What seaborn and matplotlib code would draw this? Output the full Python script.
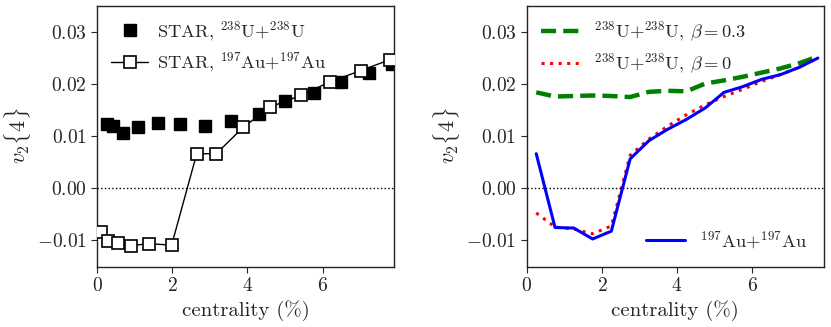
import numpy as np
import pandas as pd
import matplotlib
matplotlib.use("Agg")
import matplotlib.pyplot as plt
import seaborn as sns

# ---- data ----
uu_star_x = [0.25, 0.43, 0.69, 1.09, 1.61, 2.21, 2.87, 3.56, 4.31, 5.01, 5.76, 6.49, 7.25, 7.85]
uu_star_y = [0.0124, 0.0120, 0.0106, 0.0118, 0.0125, 0.0123, 0.0120, 0.0129, 0.0143, 0.0167, 0.0183, 0.0204, 0.0221, 0.0238]

au_star_x = [0.10, 0.29, 0.56, 0.89, 1.38, 1.98, 2.65, 3.17, 3.89, 4.61, 5.42, 6.19, 7.02, 7.80]
au_star_y = [-0.0084, -0.0101, -0.0105, -0.0111, -0.0107, -0.0110, 0.0066, 0.0066, 0.0117, 0.0156, 0.0178, 0.0204, 0.0226, 0.0247]

cent = [0.25, 0.75, 1.25, 1.75, 2.25, 2.75, 3.25, 3.75, 4.25, 4.75, 5.25, 5.75, 6.25, 6.75, 7.25, 7.75]
uu_beta03 = [0.0184, 0.0176, 0.0177, 0.0178, 0.0177, 0.0175, 0.0185, 0.0187, 0.0186, 0.0201, 0.0207, 0.0214, 0.0222, 0.0230, 0.0240, 0.0253]
uu_beta0 = [-0.0048, -0.0075, -0.0079, -0.0088, -0.0073, 0.0063, 0.0094, 0.0119, 0.0141, 0.0160, 0.0176, 0.0190, 0.0205, 0.0218, 0.0232, 0.0250]
auau_model = [0.0066, -0.0076, -0.0077, -0.0098, -0.0083, 0.0056, 0.0091, 0.0113, 0.0132, 0.0154, 0.0184, 0.0195, 0.0209, 0.0218, 0.0232, 0.0250]

yticks = [-0.01, 0.00, 0.01, 0.02, 0.03]
ytick_labels = [r"$-0.01$", r"$0.00$", r"$0.01$", r"$0.02$", r"$0.03$"]
xticks = [0, 2, 4, 6]

sns.set_style("ticks")
plt.rcParams.update({
    "font.family": "serif",
    "font.serif": ["cmr10", "DejaVu Serif"],
    "mathtext.fontset": "cm",
    "axes.formatter.use_mathtext": True,
    "axes.unicode_minus": True,
    "font.size": 14,
    "axes.linewidth": 1.0,
    "axes.edgecolor": "#222222",
    "xtick.direction": "out",
    "ytick.direction": "out",
    "xtick.major.size": 4,
    "ytick.major.size": 4,
})

fig = plt.figure(figsize=(8.31, 3.27), dpi=100)
ax1 = fig.add_axes([0.117, 0.185, 0.357, 0.798])
ax2 = fig.add_axes([0.634, 0.185, 0.357, 0.798])

df_uu = pd.DataFrame({"x": uu_star_x, "y": uu_star_y})
df_au = pd.DataFrame({"x": au_star_x, "y": au_star_y})

# left panel
sns.lineplot(data=df_au, x="x", y="y", ax=ax1, sort=False, color="black", lw=1.0,
             marker="s", markersize=9, markerfacecolor="white", markeredgecolor="black",
             markeredgewidth=1.2, label=r"STAR, $^{197}$Au+$^{197}$Au", zorder=3)
ax1.plot(df_uu["x"], df_uu["y"], ls="none", marker="s", markersize=9, color="black",
         label=r"STAR, $^{238}$U+$^{238}$U", zorder=2)
ax1.axhline(0, color="black", ls=":", lw=1.0)
h, l = ax1.get_legend_handles_labels()
ax1.legend([h[1], h[0]], [l[1], l[0]], loc="upper left", frameon=False, fontsize=13.3,
           handlelength=2.0, handletextpad=0.5, borderaxespad=0.35, labelspacing=0.45)

# right panel
df_m = pd.DataFrame({"x": cent, "b03": uu_beta03, "b0": uu_beta0, "au": auau_model})
sns.lineplot(data=df_m, x="x", y="b03", ax=ax2, color="green", lw=3.2, ls=(0, (3.4, 1.6)),
             label=r"$^{238}$U+$^{238}$U, $\beta=0.3$")
sns.lineplot(data=df_m, x="x", y="b0", ax=ax2, color="red", lw=2.2, ls=(0, (1, 1.8)),
             label=r"$^{238}$U+$^{238}$U, $\beta=0$")
sns.lineplot(data=df_m, x="x", y="au", ax=ax2, color="blue", lw=2.2,
             label=r"$^{197}$Au+$^{197}$Au")
ax2.axhline(0, color="black", ls=":", lw=1.0)
h, l = ax2.get_legend_handles_labels()
leg1 = ax2.legend(h[:2], l[:2], loc="upper left", frameon=False, fontsize=13.3,
                  handlelength=2.1, borderaxespad=0.35, labelspacing=0.45)
ax2.add_artist(leg1)
ax2.legend(h[2:], l[2:], loc="lower right", frameon=False, fontsize=13.3,
           handlelength=2.1, borderaxespad=0.5)

for ax in (ax1, ax2):
    ax.set_xlim(0, 7.9)
    ax.set_ylim(-0.0151, 0.0351)
    ax.set_xticks(xticks)
    ax.set_xticklabels([f"${v}$" for v in xticks])
    ax.set_yticks(yticks)
    ax.set_yticklabels(ytick_labels)
    ax.set_xlabel("centrality (%)", fontsize=15)
    ax.set_ylabel(r"$v_2\{4\}$", fontsize=16, labelpad=3)
    ax.tick_params(labelsize=14, top=False, right=False)
    for s in ax.spines.values():
        s.set_visible(True)

fig.savefig("out.png", dpi=100)
